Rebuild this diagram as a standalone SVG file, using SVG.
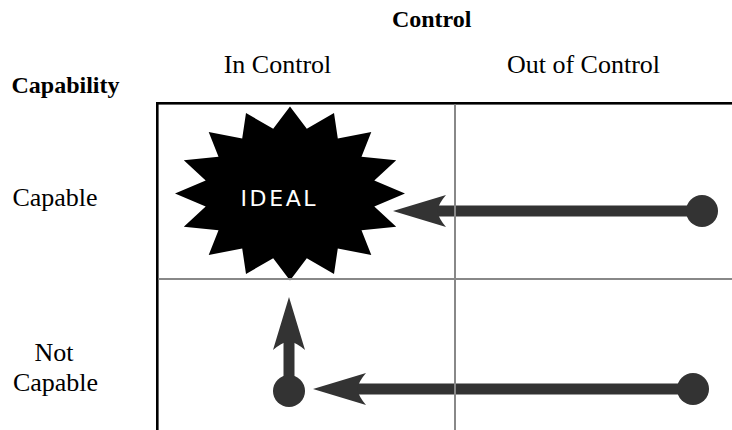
<svg xmlns="http://www.w3.org/2000/svg" width="732" height="430" viewBox="0 0 732 430">
<style>
.lbl{font-family:"Liberation Serif","Times New Roman",serif;font-size:26px;fill:#000;text-anchor:middle}
.hdr{font-family:"Liberation Serif","Times New Roman",serif;font-size:24px;font-weight:bold;fill:#000;text-anchor:middle}
.conn{stroke:#333;stroke-width:11;fill:none;marker-start:url(#dot);marker-end:url(#head)}
.grid{stroke:#888;stroke-width:2;fill:none}
</style>
<defs>
<marker id="head" markerUnits="userSpaceOnUse" viewBox="-60 -20 64 40" markerWidth="64" markerHeight="40" refX="-44" refY="0" orient="auto">
<path d="M0,0 L-53,-16 Q-46,-8 -44,0 Q-46,8 -53,16 Z" fill="#333"/>
</marker>
<marker id="dot" markerUnits="userSpaceOnUse" viewBox="-18 -18 36 36" markerWidth="36" markerHeight="36" refX="0" refY="0" orient="auto">
<circle cx="0" cy="0" r="16" fill="#333"/>
</marker>
</defs>
<rect width="732" height="430" fill="#fff"/>
<g id="labels">
<text class="hdr" x="431.7" y="26.7">Control</text>
<text class="lbl" x="277.5" y="72.7">In Control</text>
<text class="lbl" x="583.5" y="72.7">Out of Control</text>
<text class="hdr" x="65.5" y="93">Capability</text>
<text class="lbl" x="55" y="206">Capable</text>
<text class="lbl" x="54" y="361">Not</text>
<text class="lbl" x="55.5" y="391">Capable</text>
</g>
<g id="frame">
<rect x="157.3" y="103.3" width="640" height="400" fill="none" stroke="#000" stroke-width="2.6"/>
</g>
<g id="ideal">
<polygon fill="#000" points="290,106.5 306.8,128.8 334,113.1 337.8,138.6 371.3,132 361.5,156.8 396.2,160.2 374.3,180.6 405,193.5 374.3,206.4 396.2,226.8 361.5,230.2 371.3,255 337.8,248.4 334,273.9 306.8,258.2 290,280.5 273.2,258.2 246,273.9 242.2,248.4 208.7,255 218.5,230.2 183.8,226.8 205.7,206.4 175,193.5 205.7,180.6 183.8,160.2 218.5,156.8 208.7,132 242.2,138.6 246,113.1 273.2,128.8"/>
<text x="240.5" y="206.3" font-family="DejaVu Sans, sans-serif" font-size="22" letter-spacing="2.6" fill="#fff">IDEAL</text>
</g>
<g id="connectors">
<path class="conn" d="M702,211 L437,211"/>
<path class="conn" d="M693,389 L357,389"/>
<path class="conn" d="M289,391 L289,341"/>
</g>
<g id="grid">
<line class="grid" x1="455" y1="104.5" x2="455" y2="430"/>
<line class="grid" x1="158.6" y1="279" x2="732" y2="279"/>
</g>
</svg>
